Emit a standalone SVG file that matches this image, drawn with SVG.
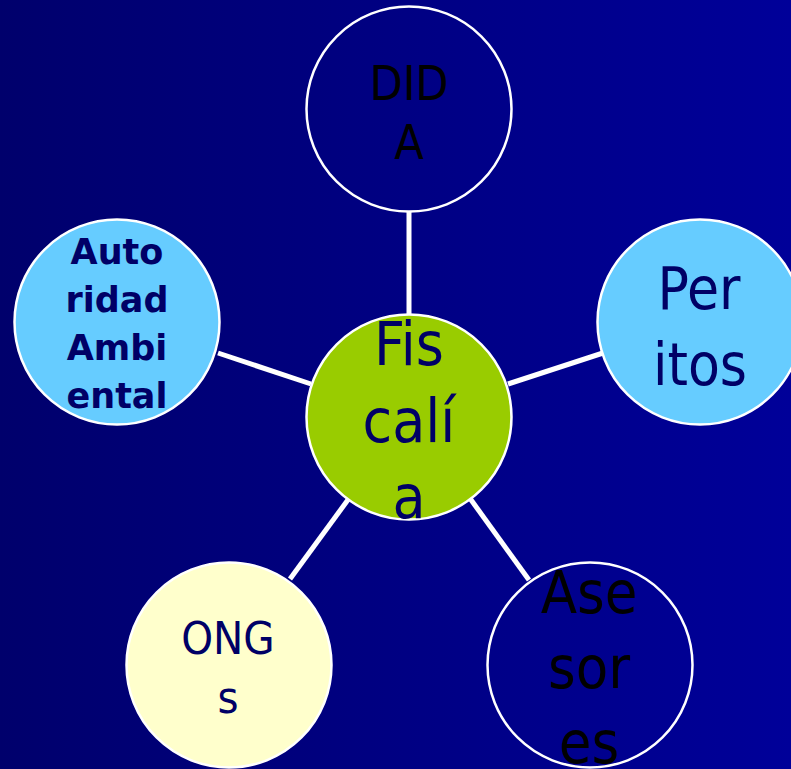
<svg xmlns="http://www.w3.org/2000/svg" width="791" height="769" viewBox="0 0 791 769">
<defs>
<linearGradient id="bg" x1="0" y1="0" x2="1" y2="0">
<stop offset="0" stop-color="#00006C"/>
<stop offset="1" stop-color="#000099"/>
</linearGradient>
</defs>
<style>
.c{stroke:#ffffff;stroke-width:2.5}
.t{font-family:"DejaVu Sans Condensed","DejaVu Sans","Liberation Sans",sans-serif;font-stretch:condensed;text-anchor:middle}
.b{font-family:"DejaVu Sans","Liberation Sans",sans-serif;font-stretch:normal;font-weight:bold}
.navy{fill:#000066}
.blk{fill:#000000}
.ln{stroke:#ffffff;stroke-width:5;fill:none}
</style>
<rect x="0" y="0" width="791" height="769" fill="url(#bg)"/>
<g id="connectors">
<line class="ln" x1="409" y1="212" x2="409" y2="316"/>
<line class="ln" x1="218" y1="353" x2="311" y2="384"/>
<line class="ln" x1="603" y1="353" x2="508" y2="384"/>
<line class="ln" x1="290" y1="579" x2="350" y2="497"/>
<line class="ln" x1="529" y1="580" x2="469" y2="497"/>
</g>
<g id="dida">
<circle class="c" cx="409" cy="109" r="102.5" fill="none"/>
<text class="t blk" x="409" y="100" font-size="48">DID</text>
<text class="t blk" x="409" y="159" font-size="48">A</text>
</g>
<g id="autoridad">
<circle class="c" cx="117" cy="322" r="102.5" fill="#66CCFF"/>
<text class="t b navy" x="117" y="264" font-size="35">Auto</text>
<text class="t b navy" x="117" y="312" font-size="35">ridad</text>
<text class="t b navy" x="117" y="360" font-size="35">Ambi</text>
<text class="t b navy" x="117" y="408" font-size="35">ental</text>
</g>
<g id="peritos">
<circle class="c" cx="700" cy="322" r="102.5" fill="#66CCFF"/>
<text class="t navy" x="699" y="309" font-size="58">Per</text>
<text class="t navy" x="700" y="385" font-size="58">itos</text>
</g>
<g id="fiscalia">
<circle class="c" cx="409" cy="417" r="102.5" fill="#99CC00"/>
<text class="t navy" x="409" y="365" font-size="60">Fis</text>
<text class="t navy" x="409" y="442" font-size="60">calí</text>
<text class="t navy" x="409" y="518" font-size="60">a</text>
</g>
<g id="ongs">
<circle class="c" cx="229" cy="665" r="102.5" fill="#FFFFCC"/>
<text class="t navy" x="228" y="654" font-size="45">ONG</text>
<text class="t navy" x="228" y="713" font-size="45">s</text>
</g>
<g id="asesores">
<circle class="c" cx="590" cy="665" r="102.5" fill="none"/>
<text class="t blk" x="589" y="613" font-size="59">Ase</text>
<text class="t blk" x="589" y="688" font-size="59">sor</text>
<text class="t blk" x="589" y="763" font-size="59">es</text>
</g>
</svg>
